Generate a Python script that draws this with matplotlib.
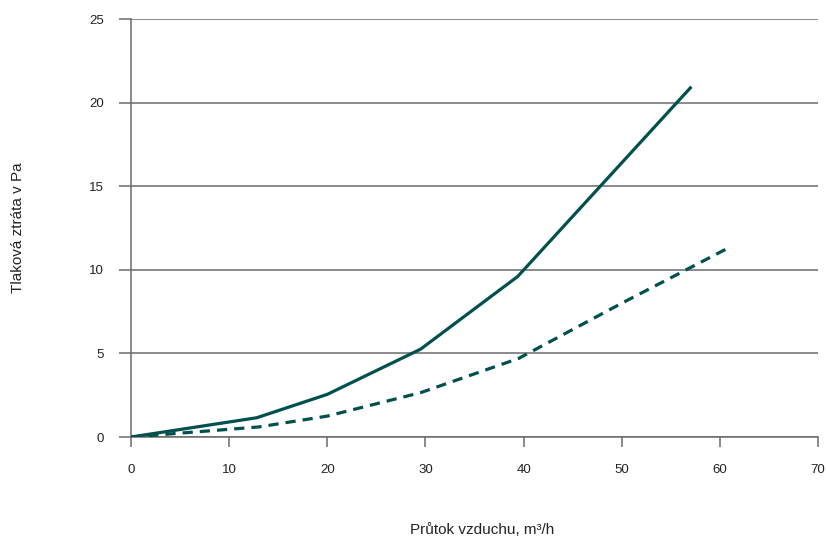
import matplotlib
matplotlib.use("Agg")
import matplotlib.pyplot as plt

plt.rcParams['font.family'] = ['Liberation Sans', 'DejaVu Sans']

solid_x = [0, 12.8, 20, 29.5, 39.4, 57.1]
solid_y = [0, 1.15, 2.55, 5.25, 9.6, 20.95]
dashed_x = [0, 13, 20, 29.5, 39.5, 50, 61.0]
dashed_y = [0, 0.6, 1.25, 2.65, 4.7, 8.0, 11.35]

x_ticks = [0, 10, 20, 30, 40, 50, 60, 70]
y_ticks = [0, 5, 10, 15, 20, 25]
x_label = "Průtok vzduchu, m³/h"
y_label = "Tlaková ztráta v Pa"

line_color = "#00504e"
grid_color = "#6b6b6b"

fig = plt.figure(figsize=(8.26, 5.4), dpi=100)
ax = fig.add_axes([131/826, 1-437/540, (818-131)/826, (437-19)/540])

ax.plot(solid_x, solid_y, color=line_color, lw=2.3, solid_capstyle='butt', zorder=3)
ax.plot(dashed_x, dashed_y, color=line_color, lw=2.3, linestyle=(0, (3.2, 2.2)), zorder=3)

ax.set_xlim(0, 70)
ax.set_ylim(0, 25)
ax.set_xticks(x_ticks)
ax.set_yticks(y_ticks)
for y in y_ticks:
    ax.axhline(y, color=grid_color, lw=1.1, zorder=1)

for s in ['top', 'right']:
    ax.spines[s].set_visible(False)
for s in ['left', 'bottom']:
    ax.spines[s].set_color(grid_color)
    ax.spines[s].set_linewidth(1.1)

ax.tick_params(axis='x', length=7.5, width=1.1, color=grid_color, pad=12, labelsize=9.5, labelcolor='#222222')
ax.tick_params(axis='y', length=8.6, width=1.1, color=grid_color, pad=11, labelsize=9.5, labelcolor='#222222')

fig.text(482/826, 1-530/540, x_label, fontsize=11, color='#222222', ha='center', va='center')
fig.text(18/826, 1-228/540, y_label, fontsize=11, color='#222222', ha='center', va='center', rotation=90)

fig.savefig("out.png", dpi=100)
